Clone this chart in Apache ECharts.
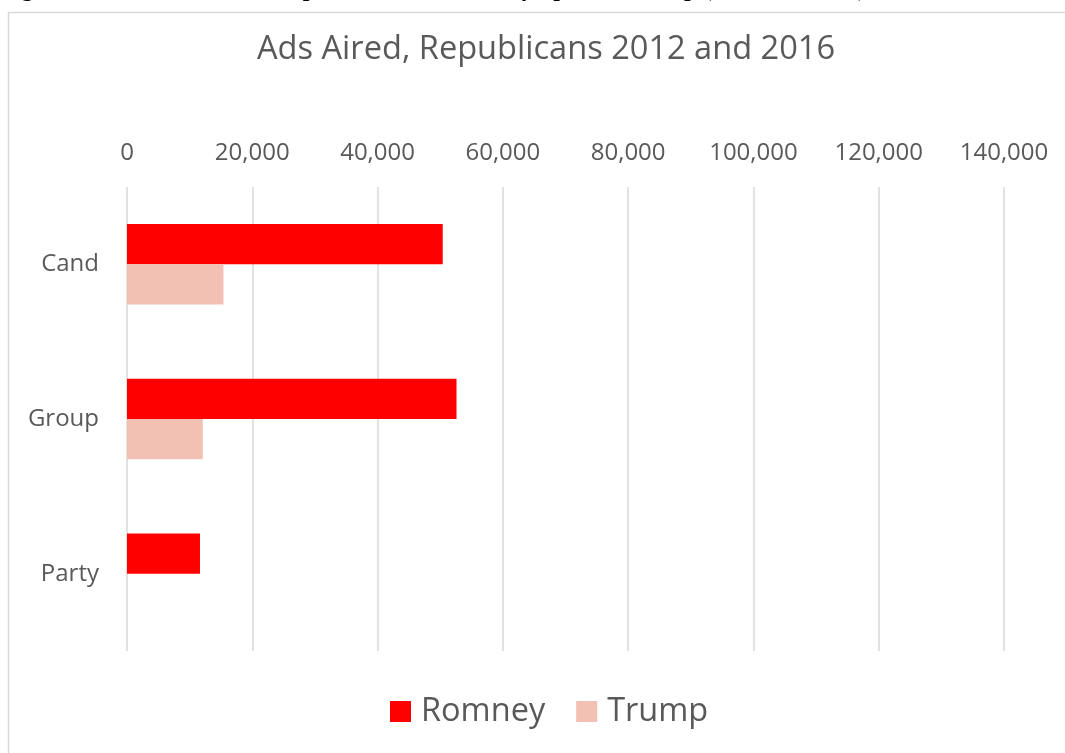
<!DOCTYPE html>
<html>
<head>
<meta charset="utf-8">
<script src="https://cdn.jsdelivr.net/npm/echarts@6/dist/echarts.min.js"></script>
<style>
  html, body { margin: 0; padding: 0; background: #fff; }
  #chart { width: 1065px; height: 753px; }
</style>
</head>
<body>
<div id="chart"></div>
<script>
// Ads aired by sponsor group
const categories = ['Cand', 'Group', 'Party'];
const romney = [50400, 52600, 11650];
const trump = [15400, 12100, 0];
const seriesNames = ['Romney', 'Trump'];
const axisMax = 140000;
const axisStep = 20000;

const FONT = '"Open Sans", "Noto Sans", sans-serif';
const TEXT = '#595959';
const GRID = '#d9d9d9';

const chart = echarts.init(document.getElementById('chart'), null, { renderer: 'canvas' });

chart.setOption({
  animation: false,
  backgroundColor: '#ffffff',
  title: {
    text: 'Ads Aired, Republicans 2012 and 2016',
    left: 252,
    top: 28,
    textStyle: { fontFamily: FONT, fontSize: 32.6, fontWeight: 'normal', color: TEXT }
  },
  graphic: [
    {
      type: 'text',
      left: 0,
      top: -22.5,
      style: {
        text: 'Figure 10: The Number of Republican Ads Aired by Sponsor Group (2012 and 2016)',
        font: 'bold 24px "Liberation Serif", "Times New Roman", serif',
        fill: '#000'
      },
      silent: true
    },
    {
      type: 'rect',
      shape: { x: 8.5, y: 12.5, width: 1200, height: 900 },
      style: { fill: '#fff', stroke: GRID, lineWidth: 1.5 },
      silent: true
    }
  ],
  legend: {
    data: seriesNames,
    bottom: 20,
    left: 385,
    itemWidth: 21,
    itemHeight: 21,
    itemGap: 31,
    icon: 'rect',
    textStyle: { fontFamily: FONT, fontSize: 32.5, color: TEXT, padding: [0, 0, 0, 5] }
  },
  grid: { left: 127, right: 61, top: 187, bottom: 102, containLabel: false },
  xAxis: {
    type: 'value',
    position: 'top',
    min: 0,
    max: axisMax,
    interval: axisStep,
    axisLine: { show: false },
    axisTick: { show: false },
    axisLabel: {
      fontFamily: FONT,
      fontSize: 24,
      color: TEXT,
      margin: 22,
      formatter: v => v.toLocaleString('en-US')
    },
    splitLine: { lineStyle: { color: GRID, width: 1.5 } }
  },
  yAxis: {
    type: 'category',
    data: categories,
    inverse: true,
    axisLine: { show: false },
    axisTick: { show: false },
    axisLabel: { fontFamily: FONT, fontSize: 24, color: TEXT, margin: 28 }
  },
  series: [
    {
      name: seriesNames[0],
      type: 'bar',
      data: romney,
      barGap: '0%',
      barCategoryGap: '48%',
      itemStyle: { color: '#ff0000' }
    },
    {
      name: seriesNames[1],
      type: 'bar',
      data: trump,
      itemStyle: { color: '#f2c1b3' }
    }
  ]
});
</script>
</body>
</html>
